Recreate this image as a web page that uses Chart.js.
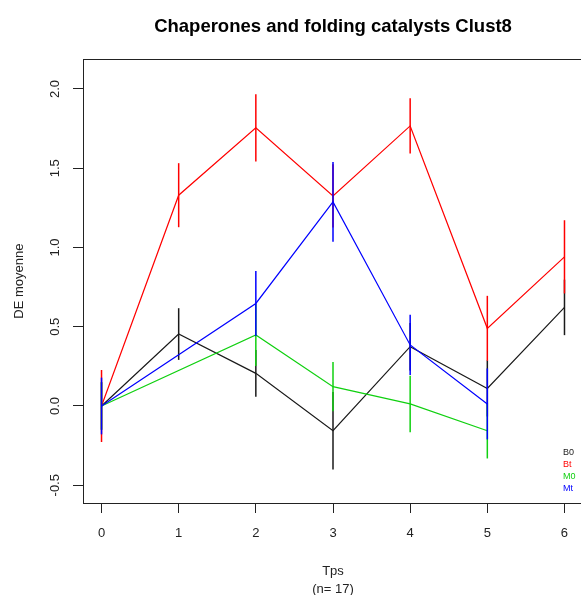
<!DOCTYPE html>
<html>
<head>
<meta charset="utf-8">
<script src="https://cdn.jsdelivr.net/npm/chart.js@4"></script>
<style>
  html, body { margin: 0; padding: 0; background: #fff; overflow: hidden; }
  #wrap { width: 590px; height: 595px; }
</style>
</head>
<body>
<div id="wrap"><canvas id="clustChart" width="590" height="595"></canvas></div>
<script>
// time points (M series have no value at Tps 1 and 6)
const tpsB = [0, 1, 2, 3, 4, 5, 6];
const tpsM = [0, 2, 3, 4, 5];

// mean DE and error per group
const b0 = [0, 0.454, 0.206, -0.156, 0.374, 0.111, 0.622];
const b0Err = [0.15, 0.163, 0.148, 0.244, 0.15, 0.177, 0.175];
const bt = [0, 1.330, 1.755, 1.326, 1.767, 0.490, 0.941];
const btErr = [0.227, 0.202, 0.212, 0.2, 0.174, 0.205, 0.231];
const m0 = [0, 0.448, 0.122, 0.013, -0.156];
const m0Err = [0.15, 0.195, 0.155, 0.178, 0.175];
const mt = [0, 0.647, 1.288, 0.385, 0.013];
const mtErr = [0.179, 0.205, 0.252, 0.19, 0.224];

const groupNames = ['B0', 'Bt', 'M0', 'Mt'];
const groupColors = ['#1a1a1a', '#ff0000', '#10d010', '#0000ff'];

const xTicks = [0, 1, 2, 3, 4, 5, 6];
const yTicks = [-0.5, 0, 0.5, 1, 1.5, 2];

const FONT = '"Liberation Sans", Arial, sans-serif';

function toPoints(xs, ys) {
    return xs.map((x, i) => ({ x: x, y: ys[i] }));
}

function makeSet(i, xs, ys, errs) {
    return {
        label: groupNames[i],
        data: toPoints(xs, ys),
        errs: errs,
        borderColor: groupColors[i],
        borderWidth: 1.2,
        pointRadius: 0,
        tension: 0,
        fill: false,
        order: 3 - i // B0 drawn first, Mt on top
    };
}

// vertical error bars drawn right after each dataset's line
const errorBars = {
    id: 'errorBars',
    afterDatasetDraw(chart, args) {
        const ds = chart.data.datasets[args.index];
        const xs = chart.scales.x, ys = chart.scales.y;
        const ctx = chart.ctx;
        ctx.save();
        ctx.strokeStyle = ds.borderColor;
        ctx.lineWidth = 1.5;
        ds.data.forEach((p, j) => {
            const e = ds.errs[j];
            const px = xs.getPixelForValue(p.x);
            ctx.beginPath();
            ctx.moveTo(px, ys.getPixelForValue(p.y + e));
            ctx.lineTo(px, ys.getPixelForValue(p.y - e));
            ctx.stroke();
        });
        ctx.restore();
    }
};

// box round the plot region and the small text legend
const boxAndLegend = {
    id: 'boxAndLegend',
    afterDraw(chart) {
        const a = chart.chartArea;
        const ctx = chart.ctx;
        ctx.save();
        ctx.strokeStyle = '#222';
        ctx.lineWidth = 1;
        ctx.strokeRect(Math.round(a.left) + 0.5, Math.round(a.top) + 0.5,
            Math.round(a.right - a.left), Math.round(a.bottom - a.top));

        ctx.font = '9px ' + FONT;
        ctx.textAlign = 'left';
        ctx.textBaseline = 'middle';
        groupNames.forEach((name, i) => {
            ctx.fillStyle = groupColors[i];
            ctx.fillText(name, 563, 453 + i * 12);
        });
        ctx.restore();
    }
};

const ctx = document.getElementById('clustChart').getContext('2d');

const clustChart = new Chart(ctx, {
    type: 'line',
    data: {
        datasets: [
            makeSet(0, tpsB, b0, b0Err),
            makeSet(1, tpsB, bt, btErr),
            makeSet(2, tpsM, m0, m0Err),
            makeSet(3, tpsM, mt, mtErr)
        ]
    },
    options: {
        responsive: false,
        animation: false,
        layout: { padding: { left: 0, right: 7, top: 0, bottom: 0 } },
        plugins: {
            legend: { display: false },
            tooltip: { enabled: false },
            title: {
                display: true,
                fullSize: false, // centre over the plot region, as R does
                text: 'Chaperones and folding catalysts Clust8',
                color: '#000',
                font: { family: FONT, size: 18.5, weight: 'bold', lineHeight: 1.2 },
                padding: { top: 16, bottom: 21 }
            }
        },
        scales: {
            x: {
                type: 'linear',
                min: -0.24,
                max: 6.24,
                afterBuildTicks: (s) => { s.ticks = xTicks.map(v => ({ value: v })); },
                afterFit: (s) => { s.height = 92; },
                border: { display: false },
                grid: {
                    drawOnChartArea: false,
                    drawTicks: true,
                    tickLength: 10,
                    tickColor: '#222',
                    tickWidth: 1
                },
                ticks: {
                    color: '#222',
                    font: { family: FONT, size: 13 },
                    padding: 13,
                    maxRotation: 0,
                    callback: (v) => String(v)
                },
                title: {
                    display: true,
                    text: ['Tps', '(n= 17)'],
                    color: '#222',
                    font: { family: FONT, size: 13, lineHeight: 1.385 },
                    padding: { top: 0, bottom: -3 }
                }
            },
            y: {
                type: 'linear',
                min: -0.612,
                max: 2.188,
                afterBuildTicks: (s) => { s.ticks = yTicks.map(v => ({ value: v })); },
                afterFit: (s) => { s.width = 83; },
                border: { display: false },
                grid: {
                    drawOnChartArea: false,
                    drawTicks: true,
                    tickLength: 10,
                    tickColor: '#222',
                    tickWidth: 1
                },
                ticks: {
                    color: '#222',
                    font: { family: FONT, size: 13 },
                    padding: 6,
                    minRotation: 90,
                    maxRotation: 90,
                    crossAlign: 'center',
                    callback: (v) => v.toFixed(1)
                },
                title: {
                    display: true,
                    text: 'DE moyenne',
                    color: '#222',
                    font: { family: FONT, size: 13, lineHeight: 1.2 },
                    padding: { top: 12, bottom: 0 }
                }
            }
        }
    },
    plugins: [errorBars, boxAndLegend]
});
</script>
</body>
</html>
